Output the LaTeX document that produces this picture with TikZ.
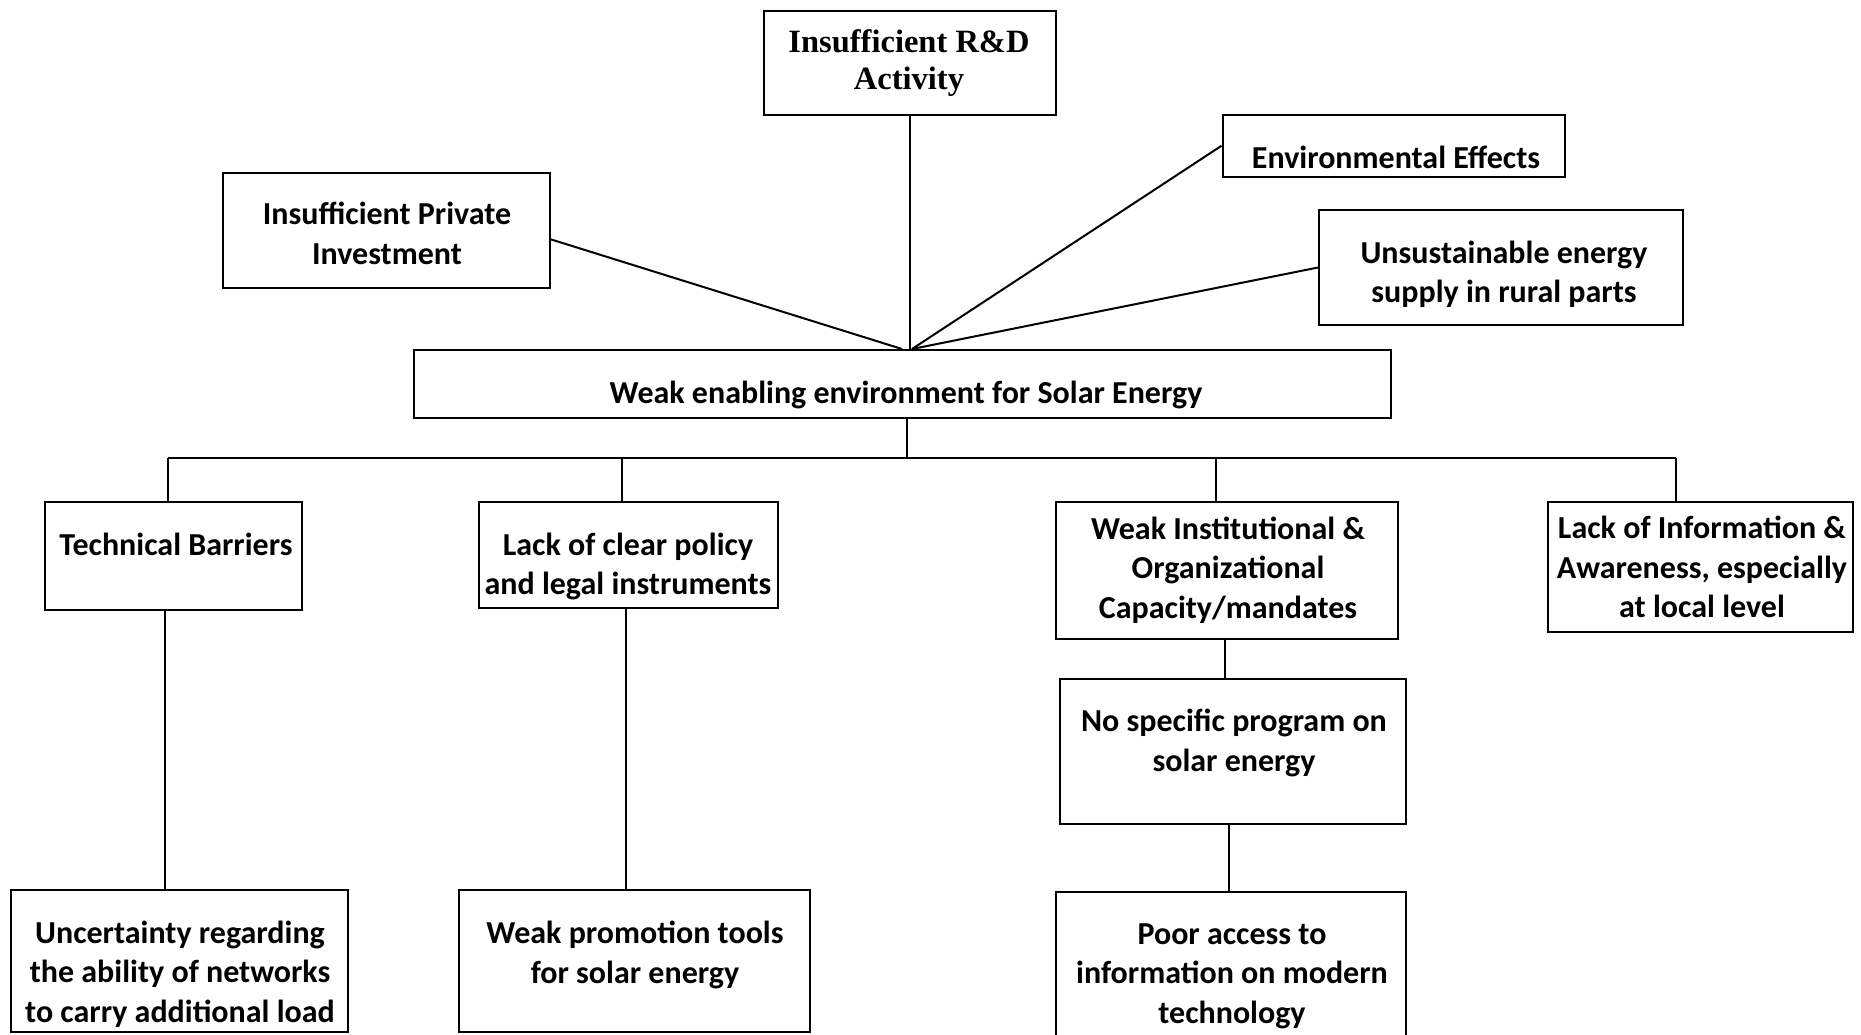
\documentclass[tikz,border=0pt]{standalone}
\usepackage{fontspec}
\setmainfont{Carlito}
\newfontfamily\headserif{Liberation Serif}
\usetikzlibrary{calc}
\begin{document}
\begin{tikzpicture}[x=1pt,y=-1pt,
  box/.style={draw, line width=2pt, inner sep=0pt, anchor=north west},
  lbl/.style={font=\bfseries\fontsize{32}{39.5}\selectfont, align=center, inner sep=0pt},
  serlbl/.style={font=\headserif\bfseries\fontsize{32.5}{37}\selectfont, align=center, inner sep=0pt},
  link/.style={line width=2pt}]
\useasboundingbox (0,0) rectangle (1861,1034);
\fill[white] (0,0) rectangle (1861,1034);
\begin{scope}
\clip (0,0) rectangle (1861,1034);

% boxes
\node[box, minimum width=292pt,   minimum height=104.5pt] (rd)   at (763,9.5)   {};
\node[box, minimum width=326.5pt, minimum height=114.5pt] (priv) at (222,172)   {};
\node[box, minimum width=342pt,   minimum height=61.5pt]  (env)  at (1221.5,114) {};
\node[box, minimum width=364pt,   minimum height=115pt]   (uns)  at (1318,209)  {};
\node[box, minimum width=977pt,   minimum height=67.7pt]  (main) at (413,349)   {};
\node[box, minimum width=257pt,   minimum height=108pt]   (tech) at (44,501)    {};
\node[box, minimum width=299pt,   minimum height=106pt]   (pol)  at (478,501)   {};
\node[box, minimum width=342pt,   minimum height=137pt]   (inst) at (1055,501)  {};
\node[box, minimum width=305pt,   minimum height=130pt]   (info) at (1547,501)  {};
\node[box, minimum width=346pt,   minimum height=145pt]   (nosp) at (1059,678)  {};
\node[box, minimum width=350pt,   minimum height=169pt]   (poor) at (1055,891)  {};
\node[box, minimum width=337.5pt, minimum height=142pt]   (unc)  at (9.5,889)   {};
\node[box, minimum width=351pt,   minimum height=142pt]   (prom) at (458,889)   {};

% labels
\node[serlbl] (tRD)   at (909,63)    {Insufficient R\&D\\Activity};
\node[lbl]    (tPriv) at (387,233.5) {Insufficient Private\\Investment};
\node[lbl]    (tEnv)  at (1396,157)  {Environmental Effects};
\node[lbl]    (tUns)  at (1504,274.5){Unsustainable energy\\supply in rural parts};
\node[lbl]    (tMain) at (906,395)   {Weak enabling environment for Solar Energy};
\node[lbl]    (tTech) at (176,544)   {Technical Barriers};
\node[lbl]    (tPol)  at (628,566.5) {Lack of clear policy\\and legal instruments};
\node[lbl]    (tInst) at (1228,570)  {Weak Institutional \&\\Organizational\\Capacity/mandates};
\node[lbl]    (tInfo) at (1702,567)  {Lack of Information \&\\Awareness, especially\\at local level};
\node[lbl]    (tNosp) at (1234,743)  {No specific program on\\solar energy};
\node[lbl]    (tPoor) at (1232,976)  {Poor access to\\information on modern\\technology};
\node[lbl]    (tUnc)  at (180,974)   {Uncertainty regarding\\the ability of networks\\to carry additional load};
\node[lbl]    (tProm) at (635,955)   {Weak promotion tools\\for solar energy};

% upper fan of causes into the central problem
\coordinate (hub) at (rd.south |- main.north);
\draw[link] (rd.south) -- (hub);
\draw[link] ($(priv.east)+(0,9)$) -- ($(hub)+(-8,0)$);
\draw[link] (env.west) -- ($(hub)+(2,0)$);
\draw[link] (uns.west) -- ($(hub)+(2,0)$);

% lower tree of consequences
\coordinate (bus)  at (907,458);
\coordinate (tapT) at (168,458);
\coordinate (tapP) at (622,458);
\coordinate (tapI) at (1216,458);
\coordinate (tapL) at (1676,458);
\draw[link] (main.south -| bus) -- (bus);
\draw[link] (tapT) -- (tapL);
\draw[link] (tapT) -- (tapT |- tech.north);
\draw[link] (tapP) -- (tapP |- pol.north);
\draw[link] (tapI) -- (tapI |- inst.north);
\draw[link] (tapL) -- (tapL |- info.north);

\coordinate (xTU) at (165,0);
\coordinate (xPP) at (626,0);
\coordinate (xIN) at (1224.5,0);
\coordinate (xNP) at (1229,0);
\draw[link] (tech.south -| xTU) -- (unc.north -| xTU);
\draw[link] (pol.south -| xPP) -- ($(prom.north -| xPP)+(0,2)$);
\draw[link] (inst.south -| xIN) -- (nosp.north -| xIN);
\draw[link] (nosp.south -| xNP) -- (poor.north -| xNP);
\end{scope}
\end{tikzpicture}
\end{document}
